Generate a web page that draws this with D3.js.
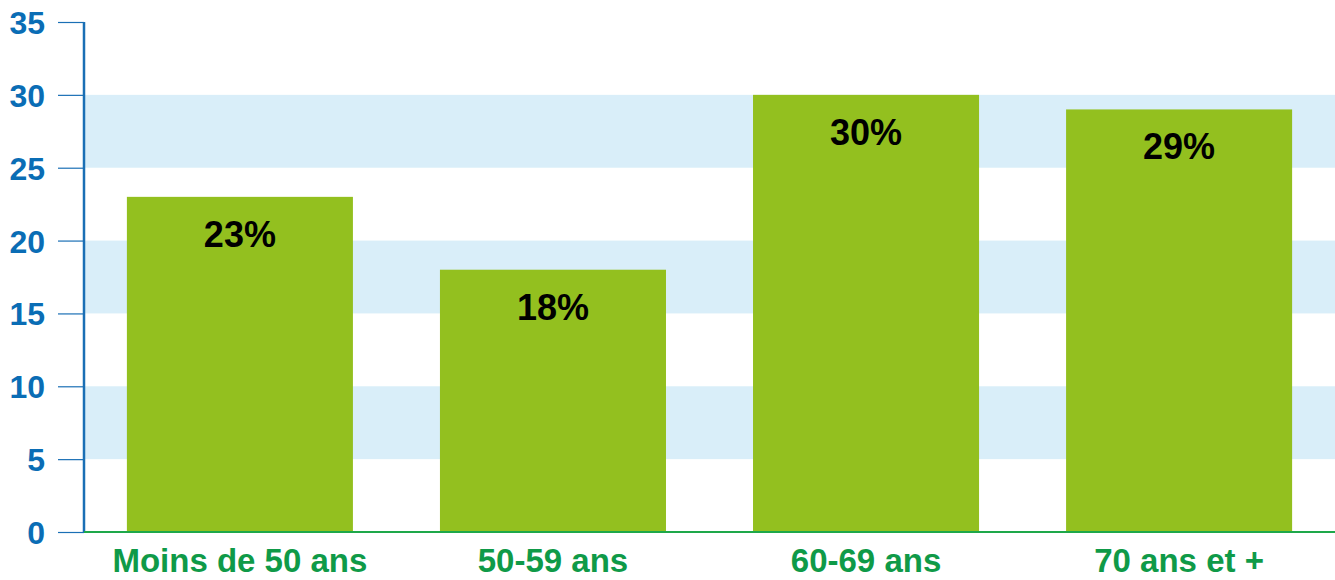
<html>
<head>
<meta charset="UTF-8">
<script src="https://d3js.org/d3.v7.min.js"></script>
<style>
body { margin: 0; background: #fff; }
svg text { font-family: "Liberation Sans", Arial, sans-serif; font-weight: bold; }
</style>
</head>
<body>
<svg id="chart" width="1335" height="580"></svg>
<script>
// donnees
var categories = ["Moins de 50 ans", "50-59 ans", "60-69 ans", "70 ans et +"];
var values = [23, 18, 30, 29];
var labels = ["23%", "18%", "30%", "29%"];
var yTicks = [0, 5, 10, 15, 20, 25, 30, 35];
var bands = [[5, 10], [15, 20], [25, 30]];

var svg = d3.select("#chart"),
	margin = {top: 22, left: 84, bottom: 48, right: 0},
	width = +svg.attr("width"),
	height = +svg.attr("height");

var x = d3.scaleBand()
	.domain(categories)
	.range([margin.left, width - margin.right])
	.paddingInner(0.278)
	.paddingOuter(0.137);

var y = d3.scaleLinear()
	.domain([0, 35])
	.range([height - margin.bottom, margin.top]);

// bandes bleu clair
svg.append("g").selectAll("rect")
	.data(bands)
	.enter().append("rect")
	.attr("x", margin.left)
	.attr("width", width - margin.left - margin.right)
	.attr("y", d => y(d[1]))
	.attr("height", d => y(d[0]) - y(d[1]))
	.attr("fill", "#d9eef9");

// barres
svg.append("g").selectAll("rect")
	.data(values)
	.enter().append("rect")
	.attr("x", (d, i) => x(categories[i]))
	.attr("width", x.bandwidth())
	.attr("y", d => y(d))
	.attr("height", d => y(0) - y(d))
	.attr("fill", "#93c01f");

// valeurs dans les barres
svg.append("g").selectAll("text")
	.data(values)
	.enter().append("text")
	.attr("x", (d, i) => x(categories[i]) + x.bandwidth() / 2)
	.attr("y", d => y(d) + 50)
	.attr("text-anchor", "middle")
	.attr("font-size", "36px")
	.attr("fill", "#000")
	.text((d, i) => labels[i]);

// axe vertical
var yAxis = svg.append("g")
	.attr("transform", `translate(${margin.left},0)`)
	.call(d3.axisLeft(y).tickValues(yTicks).tickSize(26).tickPadding(13));
yAxis.select(".domain").attr("stroke", "#1a6fb5").attr("stroke-width", 2.5)
	.attr("d", `M0,${y(35)}V${y(0)}`);
yAxis.selectAll(".tick line").attr("stroke", "#1a6fb5").attr("stroke-width", 1.2);
yAxis.selectAll(".tick text")
	.attr("fill", "#0a6db5")
	.attr("font-size", "32px")
	.attr("dy", "0.36em");

// axe horizontal
svg.append("line")
	.attr("x1", margin.left)
	.attr("x2", width - margin.right)
	.attr("y1", y(0))
	.attr("y2", y(0))
	.attr("stroke", "#1ea84a")
	.attr("stroke-width", 2);

svg.append("g").selectAll("text")
	.data(categories)
	.enter().append("text")
	.attr("x", d => x(d) + x.bandwidth() / 2)
	.attr("y", 572)
	.attr("text-anchor", "middle")
	.attr("font-size", "33px")
	.attr("fill", "#0f9a48")
	.text(d => d);
</script>
</body>
</html>
